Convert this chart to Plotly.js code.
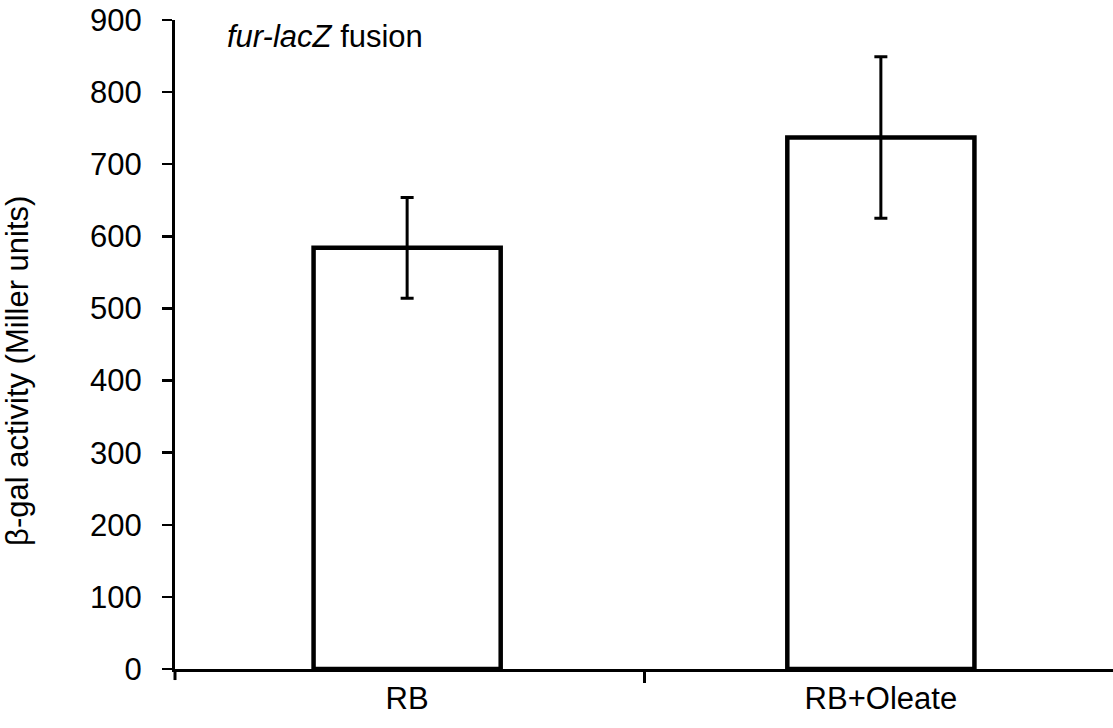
<!DOCTYPE html>
<html>
<head>
<meta charset="utf-8">
<script src="https://cdn.plot.ly/plotly-3.0.1.min.js"></script>
<style>html,body{margin:0;padding:0;background:#fff;}#chart{width:1113px;height:728px;}</style>
</head>
<body>
<div id="chart"></div>
<script>
const categories = ["RB", "RB+Oleate"];
const activity = [584, 737];
const errors = [70, 112];
const yTicks = [0, 100, 200, 300, 400, 500, 600, 700, 800, 900];
const yTitle = "β-gal activity (Miller units)";

const trace = {
  type: "bar",
  x: categories,
  y: activity,
  width: 0.395,
  marker: {color: "#ffffff", line: {color: "#000000", width: 4.5}},
  error_y: {type: "data", array: errors, visible: true, color: "#000000", thickness: 3, width: 6.5},
  hoverinfo: "skip"
};

const layout = {
  width: 1113,
  height: 728,
  margin: {l: 175, r: 0, t: 20, b: 59},
  paper_bgcolor: "#ffffff",
  plot_bgcolor: "#ffffff",
  showlegend: false,
  font: {family: "Liberation Sans, Arial, sans-serif", color: "#000000", size: 32},
  xaxis: {
    type: "category",
    range: [-0.49, 1.49],
    showline: true, linecolor: "#000000", linewidth: 3,
    ticks: "outside", tickson: "boundaries", ticklen: 11, tickwidth: 3, tickcolor: "#000000",
    showgrid: false, zeroline: false,
    tickfont: {size: 31, color: "#000000"}
  },
  yaxis: {
    range: [0, 900],
    tickvals: yTicks,
    showline: true, linecolor: "#000000", linewidth: 3,
    ticks: "outside", ticklen: 10, tickwidth: 2.5, tickcolor: "#000000",
    ticklabelstandoff: 14,
    showgrid: false, zeroline: false,
    tickfont: {size: 31, color: "#000000"}
  },
  shapes: [{
    type: "line", xref: "paper", yref: "paper",
    x0: 0, x1: 0, y0: 0, y1: -0.017,
    line: {color: "#000000", width: 3}
  }],
  annotations: [{
    xref: "paper", yref: "paper",
    x: 0.053, y: 0.974, xanchor: "left", yanchor: "middle",
    text: "<i>fur-lacZ</i> fusion", showarrow: false,
    font: {size: 31, color: "#000000"}
  }, {
    xref: "paper", yref: "paper",
    x: -0.168, y: 0.46, xanchor: "center", yanchor: "middle",
    textangle: -90,
    text: yTitle, showarrow: false,
    font: {size: 31, color: "#000000"}
  }]
};

Plotly.newPlot("chart", [trace], layout, {displayModeBar: false, staticPlot: true});
</script>
</body>
</html>
